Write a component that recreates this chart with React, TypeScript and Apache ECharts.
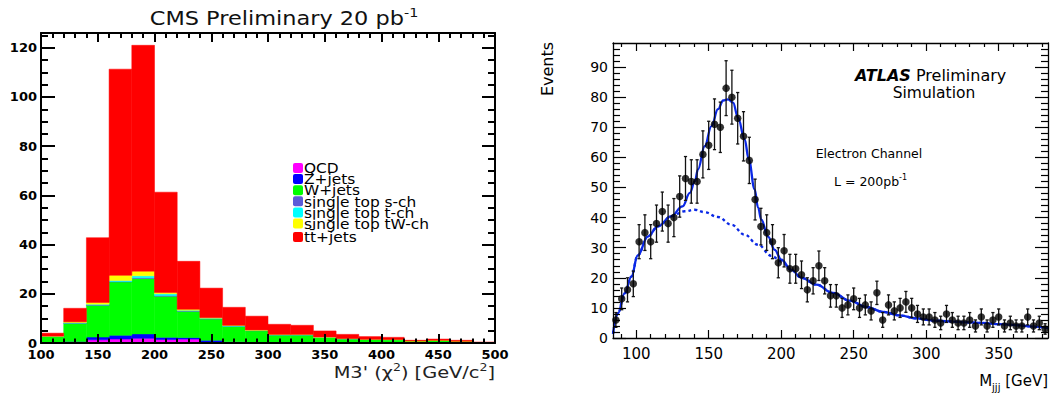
import React, { useEffect, useRef } from "react";
import * as echarts from "echarts";

// ---------------- Left panel: CMS stacked histogram ----------------
const CMS_BIN_EDGES = [100, 120, 140, 160, 180, 200, 220, 240, 260, 280, 300, 320, 340, 360, 380, 400, 420, 440, 460, 480, 500];
const CMS_LABELS = ["QCD", "Z+jets", "W+jets", "single top s-ch", "single top t-ch", "single top tW-ch", "tt\u0304+jets"];
const CMS_COLORS = ["#ff00ff", "#0000ff", "#00ff00", "#5b5bd9", "#00ffff", "#ffff00", "#ff0000"];
const CMS_QCD = [0.1, 0.2, 1.3, 1.6, 1.9, 1.4, 1.6, 0.4, 0.2, 0.2, 0.05, 0.05, 0, 0, 0, 0, 0, 0, 0, 0];
const CMS_ZJETS = [0.1, 0.4, 1.1, 1.5, 1.8, 0.9, 0.6, 0.7, 0.3, 0.2, 0.3, 0.3, 0.2, 0.1, 0.1, 0.1, 0.05, 0.05, 0, 0];
const CMS_WJETS = [2.5, 7.4, 12.9, 21.7, 22.5, 16.7, 10.7, 8.7, 6.3, 4.6, 2.9, 2.9, 2.1, 1.6, 1.35, 1.25, 0.73, 1.0, 0.68, 0.15];
const CMS_STOP_S = [0.02, 0.1, 0.2, 0.2, 0.3, 0.3, 0.2, 0.1, 0.05, 0.05, 0.05, 0.05, 0.03, 0.02, 0.01, 0, 0, 0, 0, 0];
const CMS_STOP_T = [0.03, 0.2, 0.3, 0.4, 0.8, 0.7, 0.2, 0.2, 0.2, 0.1, 0.1, 0.1, 0.05, 0.04, 0.02, 0.02, 0, 0, 0, 0];
const CMS_STOP_TW = [0.05, 0.3, 0.7, 2.1, 1.9, 0.5, 0.4, 0.2, 0.15, 0.15, 0.1, 0.1, 0.07, 0.04, 0.02, 0.03, 0.02, 0.05, 0.02, 0];
const CMS_TTBAR = [1.2, 5.5, 26.3, 83.8, 91.8, 40.8, 19.5, 12.0, 7.3, 5.6, 4.1, 3.7, 2.45, 1.7, 1.1, 0.9, 0.3, 0.5, 0.4, 0.25];
const CMS_STACK = [CMS_QCD, CMS_ZJETS, CMS_WJETS, CMS_STOP_S, CMS_STOP_T, CMS_STOP_TW, CMS_TTBAR];
const CMS_X_TICKS = [100, 150, 200, 250, 300, 350, 400, 450, 500];
const CMS_Y_TICKS = [0, 20, 40, 60, 80, 100, 120];

// ---------------- Right panel: ATLAS data + fit ----------------
const ATLAS_X = [86, 90, 94, 98, 102, 106, 110, 114, 118, 122, 126, 130, 134, 138, 142, 146, 150, 154, 158, 162, 166, 170, 174, 178, 182, 186, 190, 194, 198, 202, 206, 210, 214, 218, 222, 226, 230, 234, 238, 242, 246, 250, 254, 258, 262, 266, 270, 274, 278, 282, 286, 290, 294, 298, 302, 306, 310, 314, 318, 322, 326, 330, 334, 338, 342, 346, 350, 354, 358, 362, 366, 370, 374, 378, 382];
const ATLAS_EVENTS = [6, 13, 16, 18, 32, 35, 32, 38, 42, 38, 40, 47, 53, 52, 52, 61, 64, 71, 70, 83, 80, 73, 67, 59, 46, 37, 35, 32, 25, 29, 23, 23, 21, 16, 19, 24, 19, 14, 14, 10, 11, 13, 10, 11, 9, 15, 6, 11, 9, 10, 12, 10, 8, 7, 7, 6, 5, 8, 6, 5, 5, 6, 4, 7, 4, 6, 7, 4, 5, 4, 4, 7, 4, 5, 3];
const FIT_TOTAL = [[84, 1.4], [87.4, 8.2], [92, 14.8], [96.7, 20.4], [101, 27.4], [108, 33.7], [115, 37.1], [124, 40.4], [132, 43.7], [137, 48.2], [140.5, 52.1], [142.6, 56], [147.2, 63.7], [151.9, 70.4], [156.4, 76], [160, 78.9], [163.3, 79.3], [166.8, 78.2], [170.2, 73.2], [174.8, 66], [177.6, 59.4], [181.7, 49.4], [184, 43.4], [186.3, 39.3], [190.9, 33.7], [195.5, 29.3], [200.1, 26], [207, 22.6], [214, 20], [224.3, 17.7], [235.7, 15], [247.2, 12.4], [258.8, 10.3], [270.2, 8.7], [281.7, 7.5], [293.2, 6.5], [304.7, 5.8], [316.2, 5.5], [327.7, 5.2], [339.2, 5], [350.7, 4.6], [362.2, 4.3], [373.7, 3.8], [384, 3.3]];
const FIT_BKG = [[84, 1.4], [87.4, 8.2], [92, 14.8], [96.7, 20.4], [101, 27.4], [108, 33.7], [115, 37.1], [124, 40.4], [133.4, 42.1], [140.3, 42.6], [147.2, 41.8], [156.4, 40.2], [165.7, 37.6], [174.8, 34.3], [184, 31], [193.2, 27.3], [200.1, 25.4], [207, 22.6], [214, 20], [224.3, 17.7], [235.7, 15], [247.2, 12.4], [258.8, 10.3], [270.2, 8.7], [281.7, 7.5], [293.2, 6.5], [304.7, 5.8], [316.2, 5.5], [327.7, 5.2], [339.2, 5], [350.7, 4.6], [362.2, 4.3], [373.7, 3.8], [384, 3.3]];
const ATLAS_X_TICKS = [100, 150, 200, 250, 300, 350];
const ATLAS_Y_TICKS = [0, 10, 20, 30, 40, 50, 60, 70, 80, 90];

function minorTicks(min: number, max: number, step: number, major: number[]) {
  const out: number[] = [];
  for (let v = min; v <= max + 1e-9; v += step) {
    const r = Math.round(v * 1000) / 1000;
    if (!major.includes(r)) out.push(r);
  }
  return out;
}

const FONT = "DejaVu Sans";

function axis(gridIndex: number, position: string, min: number, max: number, ticks: number[], tickLen: number, o: any) {
  return {
    type: "value",
    gridIndex,
    min,
    max,
    position,
    z: 10,
    axisLine: { show: !!o.line, onZero: false, lineStyle: { color: "#000", width: o.lineWidth || 1 } },
    axisTick: { show: true, inside: true, length: tickLen, customValues: ticks, lineStyle: { color: "#000", width: o.tickWidth || 1 } },
    axisLabel: o.label
      ? { show: true, customValues: ticks, color: "#000", fontFamily: FONT, fontSize: o.fontSize, fontWeight: o.fontWeight || "normal", margin: o.margin }
      : { show: false },
    splitLine: { show: false },
    minorTick: { show: false },
    axisPointer: { show: false },
  };
}

function buildOption() {
  const cmsXMinor = minorTicks(110, 490, 10, CMS_X_TICKS);
  const cmsYMinor = minorTicks(5, 125, 5, CMS_Y_TICKS);
  const atXMinor = minorTicks(90, 380, 10, ATLAS_X_TICKS);
  const atYMinor = minorTicks(2, 96, 2, ATLAS_Y_TICKS);
  const CMS_YMAX = 126;
  const AT_YMAX = 98;

  const cmsL = { line: true, lineWidth: 2, tickWidth: 2 };
  const atL = { line: true, lineWidth: 1.3, tickWidth: 1.2 };

  const xAxis = [
    axis(0, "bottom", 100, 500, CMS_X_TICKS, 9, { ...cmsL, label: true, fontSize: 13, fontWeight: "bold", margin: 5 }),
    axis(0, "bottom", 100, 500, cmsXMinor, 4.5, { tickWidth: 2 }),
    axis(0, "top", 100, 500, CMS_X_TICKS, 9, cmsL),
    axis(0, "top", 100, 500, cmsXMinor, 5, { tickWidth: 2 }),
    axis(1, "bottom", 84, 384, ATLAS_X_TICKS, 8, { ...atL, label: true, fontSize: 15, margin: 8 }),
    axis(1, "bottom", 84, 384, atXMinor, 4, { tickWidth: 1.2 }),
    axis(1, "top", 84, 384, ATLAS_X_TICKS, 8, atL),
    axis(1, "top", 84, 384, atXMinor, 4, { tickWidth: 1.2 }),
  ];
  const yAxis = [
    axis(0, "left", 0, CMS_YMAX, CMS_Y_TICKS, 14, { ...cmsL, label: true, fontSize: 13, fontWeight: "bold", margin: 4 }),
    axis(0, "left", 0, CMS_YMAX, cmsYMinor, 7, { tickWidth: 2 }),
    axis(0, "right", 0, CMS_YMAX, CMS_Y_TICKS, 13, cmsL),
    axis(0, "right", 0, CMS_YMAX, cmsYMinor, 7, { tickWidth: 2 }),
    axis(1, "left", 0, AT_YMAX, ATLAS_Y_TICKS, 13, { ...atL, label: true, fontSize: 14, margin: 5 }),
    axis(1, "left", 0, AT_YMAX, atYMinor, 7, { tickWidth: 1.2 }),
    axis(1, "right", 0, AT_YMAX, ATLAS_Y_TICKS, 13, atL),
    axis(1, "right", 0, AT_YMAX, atYMinor, 7, { tickWidth: 1.2 }),
  ];

  const series: any[] = [];
  CMS_STACK.forEach((arr, k) => {
    const color = CMS_COLORS[k];
    series.push({
      type: "custom",
      name: CMS_LABELS[k],
      xAxisIndex: 0,
      yAxisIndex: 0,
      silent: true,
      clip: true,
      z: 2,
      encode: { x: [0, 1], y: [2, 3] },
      data: arr.map((v, i) => {
        let base = 0;
        for (let j = 0; j < k; j++) base += CMS_STACK[j][i];
        return [CMS_BIN_EDGES[i], CMS_BIN_EDGES[i + 1], base, base + v];
      }),
      renderItem: (params: any, api: any) => {
        if (api.value(3) - api.value(2) <= 0) return null;
        const a = api.coord([api.value(0), api.value(3)]);
        const b = api.coord([api.value(1), api.value(2)]);
        return {
          type: "rect",
          shape: { x: a[0], y: a[1], width: b[0] - a[0], height: b[1] - a[1] },
          style: { fill: color, stroke: color, lineWidth: 0.5 },
        };
      },
    });
  });

  const fitColor = "#0a28e6";
  series.push({
    type: "line",
    xAxisIndex: 4,
    yAxisIndex: 4,
    data: FIT_BKG,
    showSymbol: false,
    smooth: 0.4,
    smoothMonotone: "x",
    silent: true,
    z: 2,
    lineStyle: { color: fitColor, width: 2.3, type: [3, 3] },
  });
  series.push({
    type: "line",
    xAxisIndex: 4,
    yAxisIndex: 4,
    data: FIT_TOTAL,
    showSymbol: false,
    smooth: 0.4,
    smoothMonotone: "x",
    silent: true,
    z: 3,
    lineStyle: { color: fitColor, width: 2.3 },
  });
  series.push({
    type: "custom",
    xAxisIndex: 4,
    yAxisIndex: 4,
    silent: true,
    z: 4,
    encode: { x: 0, y: 1 },
    data: ATLAS_X.map((x, i) => [x, ATLAS_EVENTS[i], Math.sqrt(ATLAS_EVENTS[i])]),
    renderItem: (params: any, api: any) => {
      const x = api.value(0), v = api.value(1), e = api.value(2);
      const t = api.coord([x, v + e]);
      const b = api.coord([x, v - e]);
      const cap = 1.6;
      const st = { stroke: "#111", lineWidth: 1.3 };
      return {
        type: "group",
        children: [
          { type: "line", shape: { x1: t[0], y1: t[1], x2: b[0], y2: b[1] }, style: st },
          { type: "line", shape: { x1: t[0] - cap, y1: t[1], x2: t[0] + cap, y2: t[1] }, style: st },
          { type: "line", shape: { x1: b[0] - cap, y1: b[1], x2: b[0] + cap, y2: b[1] }, style: st },
        ],
      };
    },
  });
  series.push({
    type: "scatter",
    xAxisIndex: 4,
    yAxisIndex: 4,
    silent: true,
    z: 5,
    symbol: "circle",
    symbolSize: 7.5,
    itemStyle: { color: "#000" },
    data: ATLAS_X.map((x, i) => [x, ATLAS_EVENTS[i]]),
  });

  const txt = (x: number, y: number, text: string, s: any, extra: any = {}) => ({
    type: "text",
    x,
    y,
    silent: true,
    z: 20,
    ...extra,
    style: { text, fill: "#000", fontFamily: FONT, align: "left", verticalAlign: "middle", textAlign: "left", textVerticalAlign: "middle", ...s },
  });

  const graphic: any[] = [];
  graphic.push(
    txt(284, 18, "CMS Preliminary 20 pb{sup|-1}", {
      fontSize: 19.5,
      lineHeight: 24,
      align: "center",
      textAlign: "center",
      fill: "#111",
      rich: { sup: { fontSize: 12.5, lineHeight: 14, verticalAlign: "top", fontFamily: FONT, fill: "#111" } },
    }, { scaleX: 1.15 })
  );
  CMS_LABELS.forEach((label, i) => {
    const y = 168 + i * 11.1 + (i === 6 ? 2.5 : 0);
    graphic.push({ type: "rect", silent: true, z: 20, shape: { x: 293, y: y - 5, width: 10, height: 10, r: 2 }, style: { fill: CMS_COLORS[i] } });
    graphic.push(txt(304, y, label, { fontSize: 14 }, { scaleX: 1.1 }));
  });
  graphic.push(
    txt(495, 373, "M3' (\u03c7{sup|2}) [GeV/c{sup|2}]", {
      fontSize: 15.5,
      lineHeight: 20,
      align: "right",
      textAlign: "right",
      fill: "#222",
      rich: { sup: { fontSize: 10, lineHeight: 11, verticalAlign: "top", fontFamily: FONT, fill: "#222" } },
    }, { scaleX: 1.25 })
  );

  graphic.push(
    txt(855, 75, "{b|ATLAS} Preliminary", {
      fontSize: 16,
      lineHeight: 20,
      rich: { b: { fontSize: 16, fontWeight: "bold", fontStyle: "italic", fontFamily: FONT, fill: "#000", lineHeight: 20 } },
    })
  );
  graphic.push(txt(934, 93, "Simulation", { fontSize: 15.5, align: "center", textAlign: "center" }));
  graphic.push(txt(869, 153, "Electron Channel", { fontSize: 12.5, align: "center", textAlign: "center" }));
  graphic.push(
    txt(834, 181, "L = 200pb{sup|-1}", {
      fontSize: 12.5,
      lineHeight: 16,
      rich: { sup: { fontSize: 8, lineHeight: 9, verticalAlign: "top", fontFamily: FONT, fill: "#000" } },
    })
  );
  graphic.push(txt(547, 69, "Events", { fontSize: 16, align: "center", textAlign: "center" }, { rotation: Math.PI / 2 }));
  graphic.push(
    txt(1048, 381, "M{sub|jjj} [GeV]", {
      fontSize: 15,
      lineHeight: 22,
      align: "right",
      textAlign: "right",
      rich: { sub: { fontSize: 10, lineHeight: 10, verticalAlign: "bottom", fontFamily: FONT, fill: "#000" } },
    })
  );

  return {
    animation: false,
    backgroundColor: "#fff",
    textStyle: { fontFamily: FONT },
    grid: [
      { left: 41, top: 33, width: 454, height: 310, outerBoundsMode: "none", containLabel: false },
      { left: 613, top: 43, width: 435, height: 295, outerBoundsMode: "none", containLabel: false },
    ],
    xAxis,
    yAxis,
    series,
    graphic,
  };
}

export default function App() {
  const ref = useRef<HTMLDivElement>(null);
  useEffect(() => {
    if (!ref.current) return;
    const chart = echarts.init(ref.current, null, { renderer: "svg" });
    chart.setOption(buildOption() as any);
    return () => chart.dispose();
  }, []);
  return <div ref={ref} style={{ position: "absolute", left: 0, top: 0, width: 1053, height: 394, background: "#fff" }} />;
}
